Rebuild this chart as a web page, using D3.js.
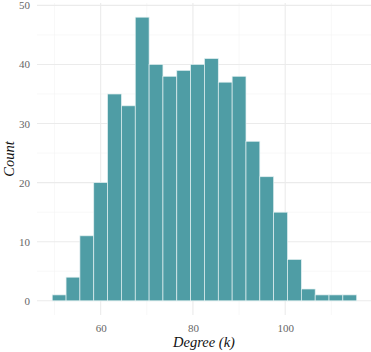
<!DOCTYPE html>
<html>
<head>
<meta charset="utf-8">
<script src="https://cdn.jsdelivr.net/npm/d3@7"></script>
<style>
  body { margin: 0; background: #fff; }
  svg { display: block; }
</style>
</head>
<body>
<div id="chart"></div>
<script>
// histogram bins (binwidth 3) and counts
var binStart = [49.5, 52.5, 55.5, 58.5, 61.5, 64.5, 67.5, 70.5, 73.5, 76.5, 79.5,
                82.5, 85.5, 88.5, 91.5, 94.5, 97.5, 100.5, 103.5, 106.5, 109.5, 112.5];
var counts = [1, 4, 11, 20, 35, 33, 48, 40, 38, 39, 40, 41, 37, 38, 27, 21, 15, 7, 2, 1, 1, 1];
var binWidth = 3;
var xTicks = [60, 80, 100];
var xMinor = [50, 70, 90, 110];
var yTicks = [0, 10, 20, 30, 40, 50];
var yMinor = [5, 15, 25, 35, 45];

var W = 371, H = 352;
var margin = {top: 3, right: 0, bottom: 37, left: 37};
var width = W - margin.left - margin.right;
var height = H - margin.top - margin.bottom;

var x = d3.scaleLinear().domain([46.2, 118.6]).range([0, width]);
var y = d3.scaleLinear().domain([-2.4, 50.4]).range([height, 0]);

var svg = d3.select("#chart").append("svg")
    .attr("width", W).attr("height", H)
  .append("g")
    .attr("transform", "translate(" + [margin.left, margin.top] + ")");

// grid
svg.selectAll(".ygmin").data(yMinor).enter().append("line")
  .attr("x1", 0).attr("x2", width)
  .attr("y1", function(d){ return y(d); }).attr("y2", function(d){ return y(d); })
  .attr("stroke", "#f4f4f4").attr("stroke-width", 0.6);
svg.selectAll(".xgmin").data(xMinor).enter().append("line")
  .attr("y1", 0).attr("y2", height)
  .attr("x1", function(d){ return x(d); }).attr("x2", function(d){ return x(d); })
  .attr("stroke", "#f4f4f4").attr("stroke-width", 0.6);
svg.selectAll(".ygmaj").data(yTicks).enter().append("line")
  .attr("x1", 0).attr("x2", width)
  .attr("y1", function(d){ return y(d); }).attr("y2", function(d){ return y(d); })
  .attr("stroke", "#ebebeb").attr("stroke-width", 1.1);
svg.selectAll(".xgmaj").data(xTicks).enter().append("line")
  .attr("y1", 0).attr("y2", height)
  .attr("x1", function(d){ return x(d); }).attr("x2", function(d){ return x(d); })
  .attr("stroke", "#ebebeb").attr("stroke-width", 1.1);

// bars
svg.selectAll(".bar").data(counts).enter().append("rect")
  .attr("class", "bar")
  .attr("x", function(d, i){ return x(binStart[i]); })
  .attr("width", x(binWidth) - x(0))
  .attr("y", function(d){ return y(d); })
  .attr("height", function(d){ return y(0) - y(d); })
  .attr("fill", "#4f9da5")
  .attr("stroke", "#e2f0f1")
  .attr("stroke-width", 0.7);

// axes (labels only, like theme_minimal)
var xAxis = d3.axisBottom(x).tickValues(xTicks).tickSize(0).tickPadding(9);
var yAxis = d3.axisLeft(y).tickValues(yTicks).tickSize(0).tickPadding(7);

svg.append("g").attr("class", "x axis")
  .attr("transform", "translate(0," + height + ")")
  .call(xAxis);
svg.append("g").attr("class", "y axis")
  .call(yAxis);

svg.selectAll(".axis .domain").remove();
svg.selectAll(".axis text")
  .attr("font-family", "'Liberation Serif', 'DejaVu Serif', serif")
  .attr("font-size", "11px")
  .attr("fill", "#666");

svg.append("text")
  .attr("transform", "translate(" + (width / 2) + "," + (height + 32) + ")")
  .attr("text-anchor", "middle")
  .attr("font-family", "'Liberation Serif', serif")
  .attr("font-style", "italic")
  .attr("font-size", "14.5px")
  .attr("fill", "#111")
  .text("Degree (k)");

svg.append("text")
  .attr("transform", "translate(-23," + (height / 2) + ")rotate(-90)")
  .attr("text-anchor", "middle")
  .attr("font-family", "'Liberation Serif', serif")
  .attr("font-style", "italic")
  .attr("font-size", "14.5px")
  .attr("fill", "#111")
  .text("Count");
</script>
</body>
</html>
